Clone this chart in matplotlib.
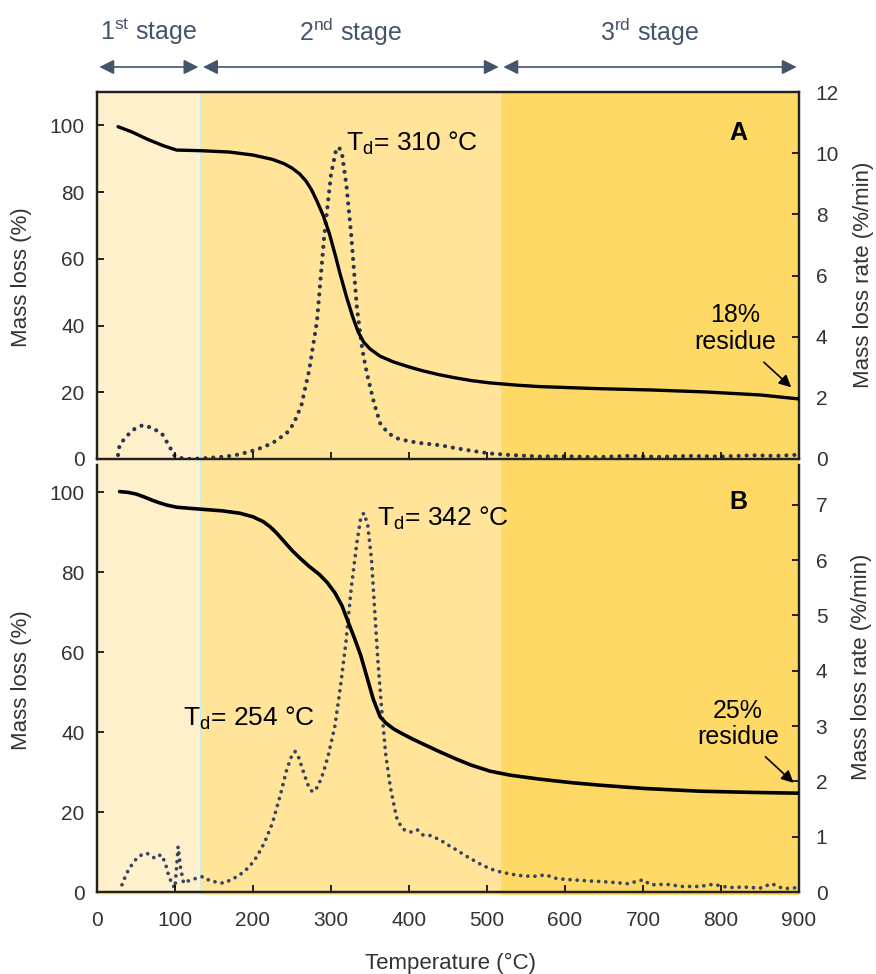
import matplotlib
matplotlib.use("Agg")
import matplotlib.pyplot as plt
import matplotlib.transforms as mtransforms
from matplotlib import font_manager

# ---------------------------------------------------------------- data
# Sample A: mass loss (%) and mass loss rate (%/min) versus temperature (°C)
temp_a_mass = [27, 45, 65, 85, 102, 134, 170, 200, 225, 240, 250, 260, 268, 275,
               282, 290, 298, 305, 312, 320, 328, 335, 342, 350, 363, 380, 400,
               418, 440, 460, 480, 504, 540, 568, 640, 709, 780, 850, 900]
mass_a = [99.6, 98.0, 95.8, 93.9, 92.6, 92.4, 92.0, 91.1, 89.8, 88.5, 87.2, 85.4,
          83.3, 80.7, 77.3, 73.0, 67.5, 61.5, 55.2, 48.5, 42.5, 38.0, 35.0, 33.0,
          30.8, 29.1, 27.6, 26.4, 25.2, 24.3, 23.5, 22.8, 22.1, 21.7, 21.1, 20.7,
          20.1, 19.2, 18.0]

temp_a_rate = [27, 29, 38, 48, 59, 70, 83, 92, 100, 110, 120, 135, 150, 165, 180,
               196, 210, 225, 243, 252, 262, 272, 282, 291, 300, 306, 310, 314,
               320, 326, 333, 340, 346, 355, 363, 373, 384, 400, 418, 440, 461,
               480, 504, 530, 568, 600, 640, 680, 720, 760, 800, 840, 870, 900]
rate_a = [0.13, 0.46, 0.75, 0.98, 1.11, 1.02, 0.84, 0.45, 0.08, 0.02, 0.0, 0.02,
          0.05, 0.08, 0.14, 0.24, 0.36, 0.52, 0.84, 1.15, 1.75, 2.9, 4.5, 7.2,
          9.3, 10.05, 10.2, 10.0, 8.9, 7.3, 5.0, 3.6, 2.8, 1.85, 1.17, 0.85, 0.68,
          0.58, 0.51, 0.45, 0.35, 0.27, 0.18, 0.13, 0.08, 0.09, 0.06, 0.10, 0.07,
          0.10, 0.08, 0.12, 0.10, 0.14]

# Sample B
temp_b_mass = [29, 40, 50, 60, 70, 80, 90, 102, 120, 140, 160, 183, 200, 213, 222,
               230, 240, 250, 260, 272, 285, 295, 305, 314, 322, 330, 338, 346,
               354, 363, 370, 380, 392, 405, 418, 440, 461, 480, 504, 530, 568,
               610, 645, 700, 773, 840, 900]
mass_b = [100.1, 99.9, 99.5, 98.8, 98.0, 97.3, 96.7, 96.2, 95.9, 95.6, 95.3, 94.7,
          93.8, 92.6, 91.3, 89.8, 87.6, 85.4, 83.5, 81.4, 79.4, 77.4, 74.8, 71.6,
          67.5, 63.5, 59.2, 53.8, 48.3, 43.8, 42.3, 40.8, 39.5, 38.2, 37.0, 35.0,
          33.2, 31.7, 30.2, 29.2, 28.2, 27.3, 26.7, 25.9, 25.2, 24.9, 24.7]

temp_b_rate = [32, 38, 45, 51, 58, 64, 70, 74, 79, 83, 88, 91, 96, 100, 102, 104,
               107, 111, 120, 128, 136, 145, 153, 162, 172, 183, 195, 205, 215,
               225, 235, 243, 250, 254, 259, 264, 270, 276, 283, 290, 297, 305,
               312, 319, 326, 333, 338, 342, 347, 352, 356, 360, 365, 370, 376,
               384, 391, 397, 405, 411, 418, 428, 440, 450, 461, 472, 482, 492,
               504, 515, 525, 540, 559, 575, 590, 610, 630, 645, 665, 680, 700,
               710, 730, 750, 773, 790, 810, 830, 850, 865, 880, 900]
rate_b = [0.13, 0.34, 0.50, 0.61, 0.68, 0.70, 0.65, 0.61, 0.66, 0.67, 0.50, 0.34,
          0.15, 0.07, 0.45, 0.82, 0.45, 0.16, 0.22, 0.25, 0.28, 0.20, 0.18, 0.16,
          0.22, 0.31, 0.45, 0.64, 0.90, 1.25, 1.75, 2.20, 2.48, 2.54, 2.42, 2.20,
          1.95, 1.81, 1.90, 2.15, 2.50, 3.00, 3.70, 4.50, 5.50, 6.30, 6.75, 6.85,
          6.65, 6.00, 5.10, 4.20, 3.30, 2.50, 1.90, 1.35, 1.15, 1.10, 1.08, 1.12,
          1.03, 1.02, 0.94, 0.85, 0.76, 0.66, 0.58, 0.50, 0.42, 0.37, 0.34, 0.30,
          0.28, 0.31, 0.24, 0.22, 0.20, 0.19, 0.17, 0.15, 0.22, 0.13, 0.14, 0.10,
          0.10, 0.14, 0.08, 0.09, 0.07, 0.15, 0.06, 0.08]

# decomposition stages (°C)
stage_edges = [0, 133, 518, 900]
stage_names = [r"1$^{\mathrm{st}}$ stage", r"2$^{\mathrm{nd}}$ stage", r"3$^{\mathrm{rd}}$ stage"]
stage_colors = ["#FFF0CC", "#FFE499", "#FFD966"]

x_ticks = [0, 100, 200, 300, 400, 500, 600, 700, 800, 900]
left_ticks = [0, 20, 40, 60, 80, 100]
right_ticks_a = [0, 2, 4, 6, 8, 10, 12]
right_ticks_b = [0, 1, 2, 3, 4, 5, 6, 7]

peak_a = 310
peaks_b = [254, 342]
residue_a = 18
residue_b = 25


# ---------------------------------------------------------------- fonts
def pick(*names):
    for n in names:
        try:
            font_manager.findfont(n, fallback_to_default=False)
            return n
        except Exception:
            continue
    return "DejaVu Sans"


SANS = pick("Liberation Sans", "Arial")
NARROW = pick("Liberation Sans Narrow", "Liberation Sans")

plt.rcParams["font.family"] = [SANS, "DejaVu Sans"]
plt.rcParams["mathtext.fontset"] = "custom"
plt.rcParams["mathtext.rm"] = SANS
plt.rcParams["mathtext.it"] = SANS + ":italic"
plt.rcParams["mathtext.bf"] = SANS + ":bold"

W, H = 876, 974
fig = plt.figure(figsize=(W / 100, H / 100), dpi=100)
fig.patch.set_facecolor("white")


def fx(px):
    return px / W


def fy(py):
    return 1 - py / H


X0, X1 = 97, 799
TICK_COL = "#333333"
DOT_COL = "#2B3550"
STAGE_COL = "#44546A"
DOTS = (0, (0.01, 1.9))

# ---------------------------------------------------------------- shaded stages
bg = fig.add_axes([fx(X0), fy(895), fx(X1) - fx(X0), fy(92) - fy(895)], zorder=0)
bg.set_xlim(0, 900)
bg.set_ylim(0, 1)
bg.axis("off")
for (a, b), c in zip(zip(stage_edges[:-1], stage_edges[1:]), stage_colors):
    bg.axvspan(a, b, color=c, lw=0)
for xv in stage_edges[:2]:
    bg.axvline(xv, color="#BDEFF7", lw=1.2)

# stage arrows and names above the panels
head_trans = mtransforms.blended_transform_factory(bg.transData, fig.transFigure)
for (a, b), name in zip(zip(stage_edges[:-1], stage_edges[1:]), stage_names):
    ann = bg.annotate("", xy=(b - 3, fy(67)), xytext=(a + 3, fy(67)),
                      xycoords=head_trans, textcoords=head_trans,
                      arrowprops=dict(arrowstyle="<|-|>", color=STAGE_COL, lw=1.2,
                                      mutation_scale=22, shrinkA=0, shrinkB=0))
    ann.set_annotation_clip(False)
    bg.text((a + b) / 2, fy(32), name, transform=head_trans,
            ha="center", va="center", fontsize=18, color=STAGE_COL,
            family=[NARROW, "DejaVu Sans"])


def style_axes(ax, ax2, rticks, show_x):
    ax.set_facecolor("none")
    ax.set_xlim(0, 900)
    ax.set_xticks(x_ticks)
    ax.set_yticks(left_ticks)
    ax2.set_yticks(rticks)
    for a in (ax, ax2):
        for s in a.spines.values():
            s.set_linewidth(1.6)
            s.set_color("#222222")
    ax.tick_params(axis="y", direction="in", length=5, width=1.2, pad=9,
                   labelsize=15, labelcolor=TICK_COL)
    ax2.tick_params(axis="y", direction="in", length=5, width=1.2, pad=12,
                    labelsize=15, labelcolor=TICK_COL)
    ax.tick_params(axis="x", direction="in", length=5, width=1.2, pad=14,
                   labelsize=15, labelcolor=TICK_COL, labelbottom=show_x)
    if show_x:
        for lab in ax.get_xticklabels():
            lab.set_family([NARROW, "DejaVu Sans"])


# ---------------------------------------------------------------- panel A
axA = fig.add_axes([fx(X0), fy(459), fx(X1) - fx(X0), fy(92) - fy(459)], zorder=2)
axA2 = axA.twinx()
axA.set_ylim(0, 110)
axA2.set_ylim(0, 12)
style_axes(axA, axA2, right_ticks_a, False)

axA2.plot(temp_a_rate, rate_a, color=DOT_COL, lw=3.0, ls=DOTS,
          dash_capstyle="round", zorder=2)
axA.plot(temp_a_mass, mass_a, color="black", lw=2.4, solid_capstyle="round",
         solid_joinstyle="round", zorder=3)
axA.set_zorder(axA2.get_zorder() + 1)
axA.patch.set_visible(False)

axA.text(319, 94.5, r"T$_\mathrm{d}$= %d °C" % peak_a, fontsize=19, va="center", ha="left")
axA.text(822, 97.7, "A", fontsize=18, fontweight="bold", ha="center", va="center")
axA.text(818, 39, "%d%%\nresidue" % residue_a, fontsize=18, ha="center", va="center",
         linespacing=1.15)
axA.annotate("", xy=(890, 21.5), xytext=(855, 29),
             arrowprops=dict(arrowstyle="-|>", color="black", lw=1.2,
                             mutation_scale=18, shrinkA=0, shrinkB=0))

# ---------------------------------------------------------------- panel B
axB = fig.add_axes([fx(X0), fy(892), fx(X1) - fx(X0), fy(465) - fy(892)], zorder=2)
axB2 = axB.twinx()
axB.set_ylim(0, 106.75)
axB2.set_ylim(0, 7.72)
axB.spines["top"].set_visible(False)
axB2.spines["top"].set_visible(False)
style_axes(axB, axB2, right_ticks_b, True)

axB2.plot(temp_b_rate, rate_b, color="#3A4460", lw=2.7, ls=DOTS,
          dash_capstyle="round", zorder=2)
axB.plot(temp_b_mass, mass_b, color="black", lw=2.6, solid_capstyle="round",
         solid_joinstyle="round", zorder=3)
axB.set_zorder(axB2.get_zorder() + 1)
axB.patch.set_visible(False)

axB.text(359, 93.5, r"T$_\mathrm{d}$= %d °C" % peaks_b[1], fontsize=19, va="center", ha="left")
axB.text(110, 43.5, r"T$_\mathrm{d}$= %d °C" % peaks_b[0], fontsize=19, va="center", ha="left")
axB.text(822, 97.5, "B", fontsize=18, fontweight="bold", ha="center", va="center")
axB.text(822, 42, "%d%%\nresidue" % residue_b, fontsize=18, ha="center", va="center",
         linespacing=1.15)
axB.annotate("", xy=(893, 27.3), xytext=(857, 33.8),
             arrowprops=dict(arrowstyle="-|>", color="black", lw=1.2,
                             mutation_scale=18, shrinkA=0, shrinkB=0))

# ---------------------------------------------------------------- axis titles
lab_kw = dict(fontsize=16, color=TICK_COL, rotation=90, ha="center", va="center")
fig.text(fx(22), fy(277), "Mass loss (%)", **lab_kw)
fig.text(fx(22), fy(680), "Mass loss (%)", **lab_kw)
fig.text(fx(863), fy(275), "Mass loss rate (%/min)", **lab_kw)
fig.text(fx(862), fy(667), "Mass loss rate (%/min)", **lab_kw)
fig.text(fx(450), fy(963), "Temperature (°C)", fontsize=16, color=TICK_COL,
         ha="center", va="center", family=[NARROW, "DejaVu Sans"])

fig.savefig("out.png", dpi=100)
